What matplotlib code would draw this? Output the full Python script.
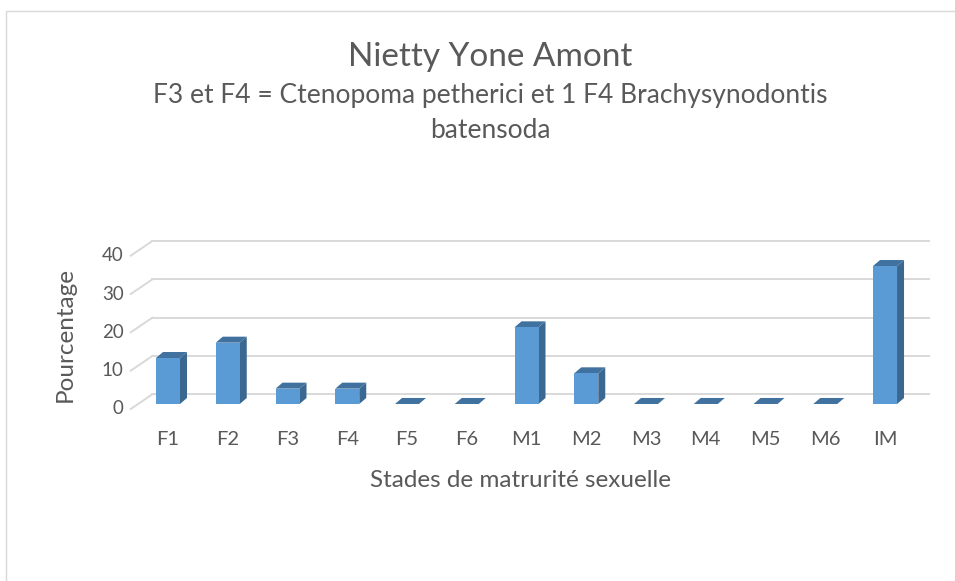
import numpy as np
import matplotlib.pyplot as plt
from matplotlib.patches import Polygon, Rectangle

plt.rcParams['font.family'] = ['Lato', 'DejaVu Sans']

# data
stades = ['F1', 'F2', 'F3', 'F4', 'F5', 'F6', 'M1', 'M2', 'M3', 'M4', 'M5', 'M6', 'IM']
pourcentage = [12, 16, 4, 4, 0, 0, 20, 8, 0, 0, 0, 0, 36]
yticks = [0, 10, 20, 30, 40]

titre = 'Nietty Yone Amont'
sous_titre1 = 'F3 et F4 = Ctenopoma petherici et 1 F4 Brachysynodontis'
sous_titre2 = 'batensoda'

W, H = 955, 581
fig = plt.figure(figsize=(W / 100, H / 100), dpi=100)

# axes box in pixels (left, top, right, bottom)
L, T, R, B = 100, 230, 940, 420
ax = fig.add_axes([L / W, 1 - B / H, (R - L) / W, (B - T) / H])
xmin, xmax = -1.138, 12.92
ymin, ymax = -4.18, 45.4
ax.set_xlim(xmin, xmax)
ax.set_ylim(ymin, ymax)
ax.set_frame_on(False)

px_x = (R - L) / (xmax - xmin)   # pixels per x unit
px_y = (B - T) / (ymax - ymin)   # pixels per y unit

def depth(dx, dy):
    return dx / px_x, dy / px_y

grid_c = '#d9d9d9'
txt_c = '#595959'
front_c = '#5b9bd5'
side_c = '#3a6891'
top_c = '#41729f'

# 3d offsets
bx, by = depth(14.3, 9.7)     # bar plane -> back wall
fx, fy = depth(-7.4, -5.0)    # bar plane -> front floor edge
dx, dy = depth(7.0, 6.0)      # bar depth

# back wall and side wall gridlines
for v in yticks:
    ax.plot([-0.5 + bx, 12.5 + bx], [v + by, v + by], color=grid_c, lw=1.4, zorder=1)
    ax.plot([-0.5 + fx, -0.5 + bx], [v + fy, v + by], color=grid_c, lw=1.4, zorder=1)
    ax.text(-0.5 + fx - 7 / px_x, v + fy, str(v), ha='right', va='center',
            fontsize=13.5, color=txt_c)

# 3d bars
w = 24 / px_x
for i, v in enumerate(pourcentage):
    x0, x1 = i - w / 2, i + w / 2
    ax.add_patch(Polygon([(x1, 0), (x1 + dx, dy), (x1 + dx, v + dy), (x1, v)],
                         closed=True, fc=side_c, ec='none', zorder=3))
    ax.add_patch(Polygon([(x0, v), (x1, v), (x1 + dx, v + dy), (x0 + dx, v + dy)],
                         closed=True, fc=top_c, ec='none', zorder=3))
    if v > 0:
        ax.add_patch(Rectangle((x0, 0), w, v, fc=front_c, ec='none', zorder=4))

ax.set_yticks([])
ax.set_xticks(range(len(stades)))
ax.set_xticklabels(stades, fontsize=14.5, color=txt_c)
ax.tick_params(axis='x', length=0, pad=8)
ax.set_xlabel('Stades de matrurité sexuelle', fontsize=17.5, color=txt_c, labelpad=16)

fig.text(65 / W, 1 - 334 / H, 'Pourcentage', rotation=90, ha='center', va='center',
         fontsize=17.5, color=txt_c)
fig.text(490 / W, 1 - 57 / H, titre, ha='center', va='center', fontsize=24, color=txt_c)
fig.text(490 / W, 1 - 95 / H, sous_titre1, ha='center', va='center', fontsize=19, color=txt_c)
fig.text(490 / W, 1 - 130 / H, sous_titre2, ha='center', va='center', fontsize=19, color=txt_c)

# chart border
fig.patches.append(Rectangle((6 / W, -0.05), 1.0, 1 - 11 / H + 0.05, transform=fig.transFigure,
                             fill=False, ec='#d9d9d9', lw=1.0))

fig.savefig('out.png', dpi=100, facecolor='white')
